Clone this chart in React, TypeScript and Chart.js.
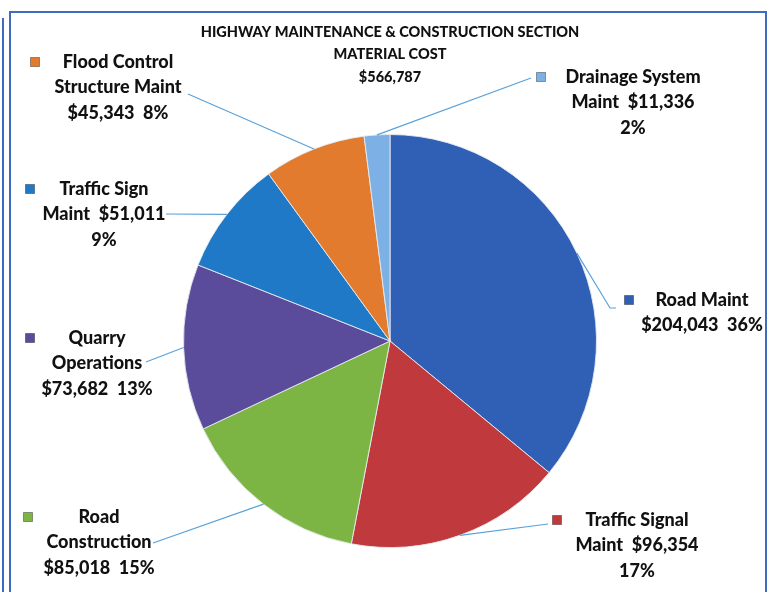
import React, { useEffect, useRef } from "react";
import { Chart, registerables } from "chart.js";

Chart.register(...registerables);

// ---- data ----
const CATEGORIES = [
  "Road Maint",
  "Traffic Signal Maint",
  "Road Construction",
  "Quarry Operations",
  "Traffic Sign Maint",
  "Flood Control Structure Maint",
  "Drainage System Maint",
];
const VALUES = [204043, 96354, 85018, 73682, 51011, 45343, 11336];
// label text lines; {v} = value, {p} = percent
const LABEL_LINES = [
  ["Road Maint", "{v}  {p}"],
  ["Traffic Signal", "Maint  {v}", "{p}"],
  ["Road", "Construction", "{v}  {p}"],
  ["Quarry", "Operations", "{v}  {p}"],
  ["Traffic Sign", "Maint  {v}", "{p}"],
  ["Flood Control", "Structure Maint", "{v}  {p}"],
  ["Drainage System", "Maint  {v}", "{p}"],
];
const TITLE_LINES = ["HIGHWAY MAINTENANCE & CONSTRUCTION SECTION", "MATERIAL COST", "{total}"];

// ---- styles / layout ----
const COLORS = ["#2F60B6", "#C0393D", "#7DB544", "#5B4B9B", "#2079C7", "#E37B2F", "#7DB0E4"];
const LEADER_COLOR = "#5AA2DA";
const LABEL_LAYOUT = [
  { cx: 702, y: 300, keyX: 629, path: [[610, 308], [616, 308]] },
  { cx: 637, y: 520, keyX: 557, path: [[548, 524]] },
  { cx: 99, y: 517, keyX: 28, path: [[153, 543]] },
  { cx: 97, y: 338, keyX: 30, path: [[146, 362]] },
  { cx: 104, y: 189, keyX: 30, path: [[166, 214]] },
  { cx: 118, y: 62, keyX: 35, path: [[188, 94]] },
  { cx: 633, y: 77, keyX: 541, path: [[531, 78]] },
];
const LABEL_FONT = "900 18px Lato";
const LINE_H = 25.5;

const fmt = (v: number) => "$" + v.toLocaleString("en-US");

const labelPlugin = {
  id: "pieLabels",
  afterDatasetsDraw(chart: any) {
    const ctx = chart.ctx;
    const meta = chart.getDatasetMeta(0);
    const total = VALUES.reduce((a, b) => a + b, 0);
    ctx.save();
    // title
    ctx.fillStyle = "#111";
    ctx.textAlign = "center";
    ctx.textBaseline = "middle";
    ctx.font = "900 14.5px Lato";
    TITLE_LINES.forEach((t, i) => {
      ctx.fillText(t.replace("{total}", fmt(total)), 390, 32 + i * 22.5);
    });
    meta.data.forEach((arc: any, i: number) => {
      const p = arc.getProps(["x", "y", "startAngle", "endAngle", "outerRadius"], true);
      const mid = (p.startAngle + p.endAngle) / 2;
      const sx = p.x + Math.cos(mid) * p.outerRadius;
      const sy = p.y + Math.sin(mid) * p.outerRadius;
      const lay = LABEL_LAYOUT[i];
      // leader line
      ctx.strokeStyle = LEADER_COLOR;
      ctx.lineWidth = 1.2;
      ctx.beginPath();
      ctx.moveTo(sx, sy);
      lay.path.forEach(([x, y]) => ctx.lineTo(x, y));
      ctx.stroke();
      // key
      ctx.fillStyle = COLORS[i];
      ctx.fillRect(lay.keyX - 4.5, lay.y - 4.5, 9, 9);
      ctx.strokeStyle = "rgba(0,0,0,0.35)";
      ctx.lineWidth = 1;
      ctx.strokeRect(lay.keyX - 4.5, lay.y - 4.5, 9, 9);
      // text
      const pct = Math.round((VALUES[i] / total) * 100) + "%";
      ctx.fillStyle = "#111";
      ctx.font = LABEL_FONT;
      LABEL_LINES[i].forEach((t, j) => {
        const s = t.replace("{v}", fmt(VALUES[i])).replace("{p}", pct);
        ctx.fillText(s, lay.cx, lay.y + j * LINE_H);
      });
    });
    ctx.restore();
  },
};

export default function App() {
  const ref = useRef<HTMLCanvasElement | null>(null);
  useEffect(() => {
    if (!ref.current) return;
    const chart = new Chart(ref.current, {
      type: "pie",
      data: {
        labels: CATEGORIES,
        datasets: [
          {
            data: VALUES,
            backgroundColor: COLORS,
            borderColor: "rgba(230,235,240,0.9)",
            borderWidth: 1,
          },
        ],
      },
      options: {
        animation: false,
        responsive: false,
        layout: { padding: { top: 134, bottom: 44, left: 183, right: 178 } },
        plugins: {
          legend: { display: false },
          tooltip: { enabled: false },
          title: { display: false },
        },
      },
      plugins: [labelPlugin],
    });
    return () => chart.destroy();
  }, []);
  return (
    <div style={{ position: "fixed", left: 0, top: 0, width: 775, height: 592, background: "#fff", overflow: "hidden" }}>
      <div style={{ position: "absolute", left: 2, top: 18, width: 2, height: 600, background: "#3D6CC0" }} />
      <div
        style={{
          position: "absolute",
          left: 9,
          top: 11,
          width: 758,
          height: 620,
          border: "2.5px solid #3D6CC0",
          boxSizing: "border-box",
        }}
      />
      <canvas ref={ref} width={775} height={592} style={{ position: "absolute", left: 0, top: 0 }} />
    </div>
  );
}
